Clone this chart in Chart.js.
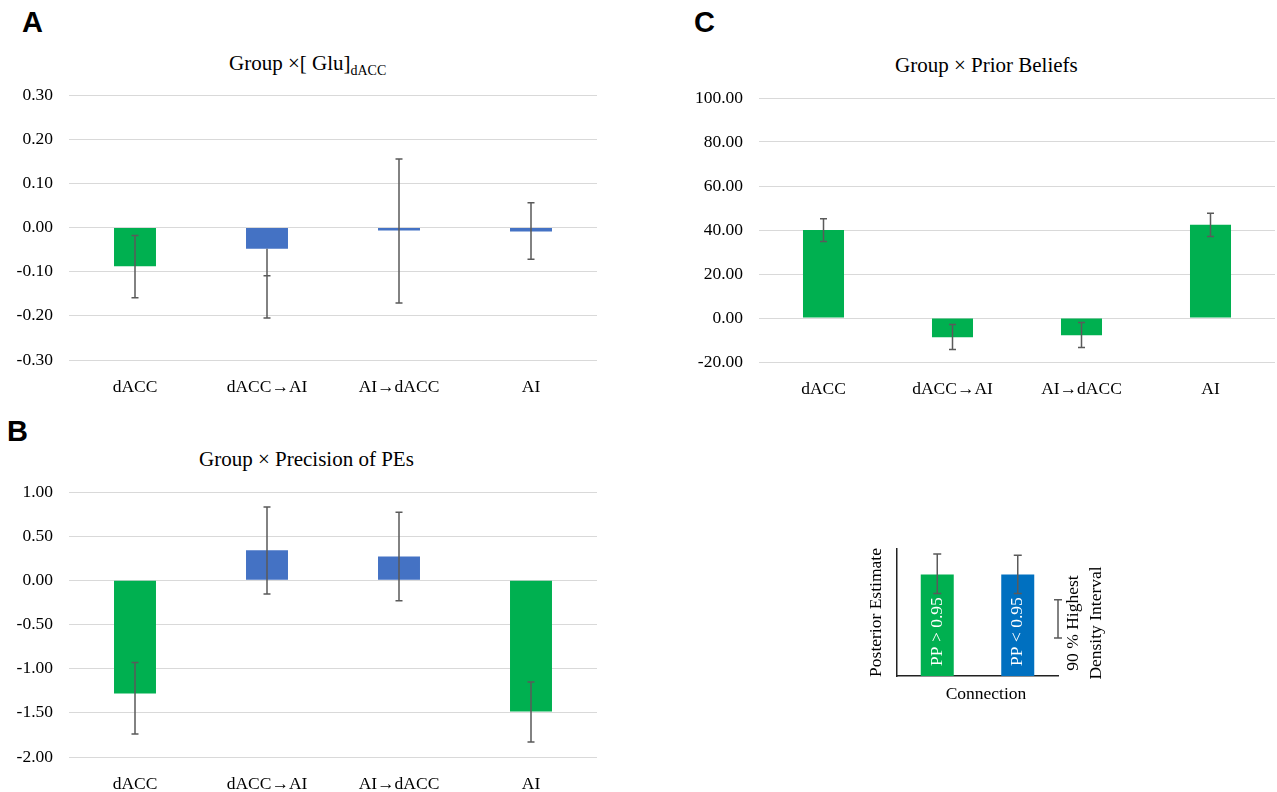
<!DOCTYPE html>
<html>
<head>
<meta charset="utf-8">
<script src="https://cdn.jsdelivr.net/npm/chart.js@4/dist/chart.umd.min.js"></script>
<style>
  body { margin: 0; background: #fff; width: 1277px; height: 792px; position: relative; overflow: hidden;
         font-family: "Liberation Serif", "Times New Roman", serif; color: #000; }
  .box { position: absolute; }
  .letter { position: absolute; font-family: "Liberation Sans", Arial, sans-serif; font-weight: bold;
            font-size: 29px; line-height: 1; }
  .title { position: absolute; font-size: 21px; line-height: 1; white-space: nowrap; }
  .note { position: absolute; font-size: 17.5px; line-height: 1; white-space: nowrap; }
</style>
</head>
<body>
<div class="letter" style="left:22px;top:8px">A</div>
<div class="letter" style="left:7px;top:417px">B</div>
<div class="letter" style="left:694px;top:8px">C</div>

<div class="title" style="left:229px;top:53px">Group ×[ Glu]<span style="font-size:14px;position:relative;top:4.5px">dACC</span></div>
<div class="title" style="left:199px;top:449px">Group × Precision of PEs</div>
<div class="title" style="left:895px;top:55px">Group × Prior Beliefs</div>

<div class="box" style="left:0;top:80px;width:620px;height:330px"><canvas id="chartA"></canvas></div>
<div class="box" style="left:0;top:477px;width:620px;height:315px"><canvas id="chartB"></canvas></div>
<div class="box" style="left:640px;top:83px;width:637px;height:330px"><canvas id="chartC"></canvas></div>
<div class="box" style="left:860px;top:540px;width:230px;height:170px"><canvas id="chartKey"></canvas></div>

<div class="note" style="left:986px;top:685px;transform:translateX(-50%)">Connection</div>
<div class="note" style="left:1019px;top:600px;width:130px;height:46px;line-height:23px;text-align:center;transform:rotate(-90deg)">90 % Highest<br>Density Interval</div>

<script>
const categories = ["dACC", "dACC→AI", "AI→dACC", "AI"];

// A: Group x [Glu]dACC
const valuesA = [-0.088, -0.048, -0.007, -0.009];
const errLowA = [-0.159, -0.205, -0.171, -0.072];
const errHighA = [-0.018, -0.109, 0.155, 0.056];

// B: Group x Precision of PEs
const valuesB = [-1.28, 0.34, 0.27, -1.485];
const errLowB = [-1.74, -0.155, -0.23, -1.83];
const errHighB = [-0.93, 0.83, 0.77, -1.15];

// C: Group x Prior Beliefs
const valuesC = [40.0, -8.7, -7.8, 42.4];
const errLowC = [34.8, -14.3, -13.4, 37.1];
const errHighC = [45.1, -3.0, -2.0, 47.6];

// key panel
const keyLabels = ["PP > 0.95", "PP < 0.95"];
const keyValues = [0.8, 0.8];
const keyErrLow = [0.65, 0.65];
const keyErrHigh = [0.96, 0.95];
const keyInterval = [0.3, 0.6];

const green = "#00B050", blue = "#4472C4", keyBlue = "#0070C0";

Chart.defaults.font.family = '"Liberation Serif", "Times New Roman", serif';
Chart.defaults.font.size = 17.5;
Chart.defaults.color = "#000";

// error bars, drawn over the bars; stem joins the bar end if it lies outside the interval
const errorBars = {
    id: "errorBars",
    afterDatasetsDraw(chart, args, opts) {
        if (!opts.low) return;
        const ctx = chart.ctx;
        const y = chart.scales.y;
        const vals = chart.data.datasets[0].data;
        const cap = opts.cap || 3.5;
        ctx.save();
        ctx.strokeStyle = opts.color || "#5a5a5a";
        ctx.lineWidth = opts.width || 1.5;
        chart.getDatasetMeta(0).data.forEach((bar, i) => {
            const lo = y.getPixelForValue(opts.low[i]);
            const hi = y.getPixelForValue(opts.high[i]);
            const v = y.getPixelForValue(vals[i]);
            ctx.beginPath();
            ctx.moveTo(bar.x, Math.min(hi, v));
            ctx.lineTo(bar.x, Math.max(lo, v));
            ctx.moveTo(bar.x - cap, lo); ctx.lineTo(bar.x + cap, lo);
            ctx.moveTo(bar.x - cap, hi); ctx.lineTo(bar.x + cap, hi);
            ctx.stroke();
        });
        ctx.restore();
    }
};
Chart.register(errorBars);

function fmt(v) {
    return (Math.abs(v) < 1e-9 ? 0 : v).toFixed(2);
}

function createChart(canvasId, values, colors, low, high, min, max, step, layout) {
    new Chart(document.getElementById(canvasId), {
        type: "bar",
        data: {
            labels: categories,
            datasets: [{
                data: values,
                backgroundColor: colors,
                borderWidth: 0,
                barPercentage: 0.318,
                categoryPercentage: 1
            }]
        },
        options: {
            responsive: true,
            maintainAspectRatio: false,
            animation: false,
            layout: { padding: { top: 15, right: layout.right, left: 0, bottom: 0 } },
            plugins: {
                legend: { display: false },
                tooltip: { enabled: false },
                errorBars: { low: low, high: high, cap: 3.5 }
            },
            scales: {
                x: {
                    grid: { display: false },
                    border: { display: false },
                    ticks: { padding: 9, maxRotation: 0 },
                    afterFit: s => { s.height = layout.xh; }
                },
                y: {
                    min: min, max: max,
                    grid: { color: "#D9D9D9", lineWidth: 1, drawTicks: false },
                    border: { display: false },
                    ticks: { stepSize: step, padding: 16, callback: v => fmt(v) },
                    afterFit: s => {
                        s.width = layout.yw;
                        s.paddingTop = 10;
                        s.paddingBottom = 10;
                    }
                }
            }
        }
    });
}

createChart("chartA", valuesA, [green, blue, blue, blue], errLowA, errHighA, -0.3, 0.3, 0.1,
    { right: 23, xh: 50, yw: 69 });
createChart("chartB", valuesB, [green, blue, blue, green], errLowB, errHighB, -2, 1, 0.5,
    { right: 23, xh: 35, yw: 69 });
createChart("chartC", valuesC, [green, green, green, green], errLowC, errHighC, -20, 100, 20,
    { right: 2, xh: 51, yw: 119 });

// labels inside the key bars and the stand-alone interval glyph
const keyDecor = {
    id: "keyDecor",
    afterDatasetsDraw(chart) {
        const ctx = chart.ctx;
        const y = chart.scales.y;
        ctx.save();
        ctx.fillStyle = "#fff";
        ctx.font = '17.5px "Liberation Serif", "Times New Roman", serif';
        ctx.textAlign = "center";
        ctx.textBaseline = "middle";
        chart.getDatasetMeta(0).data.forEach((bar, i) => {
            ctx.save();
            ctx.translate(bar.x, y.getPixelForValue(0.35));
            ctx.rotate(-Math.PI / 2);
            ctx.fillText(keyLabels[i], 0, 0);
            ctx.restore();
        });
        const x = chart.chartArea.right;
        const lo = y.getPixelForValue(keyInterval[0]);
        const hi = y.getPixelForValue(keyInterval[1]);
        ctx.strokeStyle = "#5a5a5a";
        ctx.lineWidth = 1.5;
        ctx.beginPath();
        ctx.moveTo(x, lo); ctx.lineTo(x, hi);
        ctx.moveTo(x - 4, lo); ctx.lineTo(x + 4, lo);
        ctx.moveTo(x - 4, hi); ctx.lineTo(x + 4, hi);
        ctx.stroke();
        ctx.restore();
    }
};

new Chart(document.getElementById("chartKey"), {
    type: "bar",
    data: {
        labels: keyLabels,
        datasets: [{
            data: keyValues,
            backgroundColor: [green, keyBlue],
            borderWidth: 0,
            barPercentage: 0.41,
            categoryPercentage: 1
        }]
    },
    plugins: [keyDecor],
    options: {
        responsive: true,
        maintainAspectRatio: false,
        animation: false,
        layout: { padding: { top: 9, right: 32, left: 0, bottom: 0 } },
        plugins: {
            legend: { display: false },
            tooltip: { enabled: false },
            errorBars: { low: keyErrLow, high: keyErrHigh, cap: 4 }
        },
        scales: {
            x: {
                grid: { display: false },
                border: { display: true, color: "#222", width: 1.5 },
                ticks: { display: false },
                afterFit: s => { s.height = 34; }
            },
            y: {
                min: 0, max: 1,
                grid: { display: false },
                border: { display: true, color: "#222", width: 1.5 },
                ticks: { display: false },
                title: { display: true, text: "Posterior Estimate", padding: { top: 6, bottom: 0 } },
                afterFit: s => { s.width = 37; }
            }
        }
    }
});
</script>
</body>
</html>
